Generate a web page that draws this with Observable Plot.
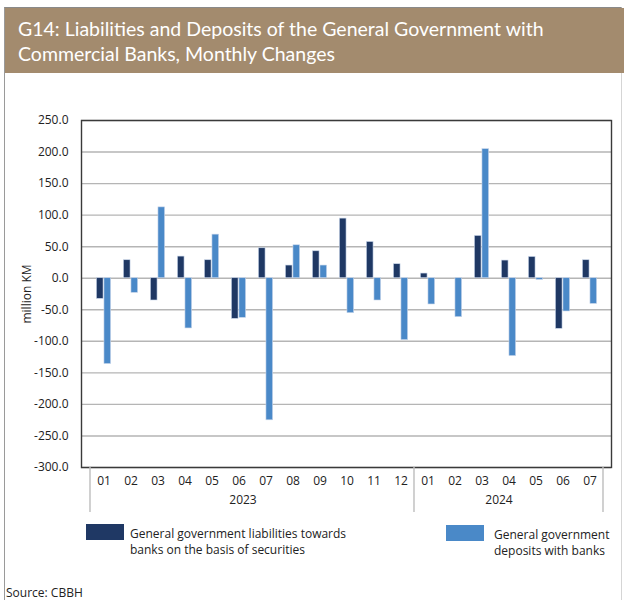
<!DOCTYPE html>
<html><head><meta charset="utf-8">
<script src="https://cdn.jsdelivr.net/npm/d3@7"></script>
<script src="https://cdn.jsdelivr.net/npm/@observablehq/plot@0.6"></script>
<style>
body{margin:0;width:624px;height:600px;position:relative;background:#fff;overflow:hidden;font-family:"Open Sans",sans-serif;color:#222}
#border{position:absolute;left:4px;top:7px;width:616px;height:600px;border-left:1px solid #9a9a9a;border-right:1px solid #d5d5d5;border-top:1px solid #8a8a8a;}
#banner{position:absolute;left:5px;top:8px;width:619px;height:65px;background:#a38b6e;}
#banner div{position:absolute;left:13px;color:#fff;font-family:Lato,sans-serif;font-size:19.5px;white-space:nowrap;line-height:24px}
#chart{position:absolute;left:0;top:80px}
.leg{position:absolute;font-size:12px;line-height:16px;color:#222;white-space:nowrap}
.sw{position:absolute;width:38px;height:16px}
#source{position:absolute;left:6px;top:584px;font-size:12px;color:#222}
</style></head>
<body>
<div id="border"></div>
<div id="banner">
  <div style="top:9px">G14: Liabilities and Deposits of the General Government with</div>
  <div style="top:34px">Commercial Banks, Monthly Changes</div>
</div>
<div id="chart"></div>
<div class="sw" id="sw1" style="left:86px;top:524px"></div>
<div class="leg" style="left:130px;top:526px">General government liabilities towards<br>banks on the basis of securities</div>
<div class="sw" id="sw2" style="left:446px;top:525px"></div>
<div class="leg" style="left:494px;top:527px">General government<br>deposits with banks</div>
<div id="source">Source: CBBH</div>
<script>
const months = ["2023-01","2023-02","2023-03","2023-04","2023-05","2023-06","2023-07","2023-08","2023-09","2023-10","2023-11","2023-12",
                "2024-01","2024-02","2024-03","2024-04","2024-05","2024-06","2024-07"];
const liabilities = [-32.7, 28.5, -35.3, 34.3, 28.5, -64.4, 47.5, 20.1, 42.7, 94.5, 57.4, 22.2,
                     7.4, 0, 67.0, 28.0, 33.7, -80.2, 28.5];
const deposits = [-136.0, -23.2, 112.3, -79.6, 69.1, -62.8, -225.2, 52.2, 20.1, -55.4, -35.3, -98.1,
                  -41.6, -61.7, 204.6, -123.4, -2.7, -52.7, -40.7];
const yTicks = [-300,-250,-200,-150,-100,-50,0,50,100,150,200,250];
const seriesNames = ["General government liabilities towards banks on the basis of securities","General government deposits with banks"];
const colors = ["#1f3864","#4a89c8"];

document.getElementById("sw1").style.background = colors[0];
document.getElementById("sw2").style.background = colors[1];

const liabData = months.map((m,i)=>({month:m, value:liabilities[i]}));
const depData = months.map((m,i)=>({month:m, value:deposits[i]}));

const font = "'Open Sans', sans-serif";
const chart = Plot.plot({
  width: 624, height: 440,
  marginTop: 40, marginLeft: 81, marginRight: 13, marginBottom: 53,
  style: {fontFamily: font, fontSize: "12px", color: "#222", background: "transparent"},
  x: {type: "band", domain: months, padding: 0},
  y: {domain: [-300, 250]},
  marks: [
    Plot.gridY(yTicks, {stroke: "#b5b5b5", strokeOpacity: 1, strokeWidth: 1.4}),
    Plot.barY(liabData, {x: "month", y: "value", fill: colors[0], insetLeft: 6.4, insetRight: 13.95, stroke: "#c9d6ea", strokeWidth: 0.6}),
    Plot.barY(depData, {x: "month", y: "value", fill: colors[1], insetLeft: 13.95, insetRight: 6.4, stroke: "#c9d6ea", strokeWidth: 0.6}),
    Plot.frame({stroke: "#3a3a3a", strokeWidth: 1.4}),
    Plot.axisY(yTicks, {tickSize: 0, tickPadding: 13, tickFormat: d => d.toFixed(1), fontSize: 12,
      label: "million KM", labelAnchor: "center", labelOffset: 59, labelArrow: "none"}),
    Plot.axisX({tickSize: 0, tickPadding: 9, tickFormat: d => d.slice(5), fontSize: 12, label: null}),
    Plot.text(["2023"], {x: ["2023-06"], text: d => d, frameAnchor: "bottom", dy: 36, dx: 4, fontSize: 12}),
    Plot.text(["2024"], {x: ["2024-04"], text: d => d, frameAnchor: "bottom", dy: 36, dx: -10, fontSize: 12})
  ]
});
document.getElementById("chart").appendChild(chart);

// category separators below the axis, derived from the band scale
const xs = chart.scale("x"), ys = chart.scale("y");
const bw = xs.bandwidth;
const sepX = [xs.apply(months[0]), xs.apply("2024-01"), xs.apply(months[months.length-1]) + bw];
const yb = ys.apply(-300);
d3.select(chart).append("g")
  .selectAll("line").data(sepX).join("line")
  .attr("x1", d => d).attr("x2", d => d)
  .attr("y1", yb).attr("y2", yb + 45)
  .attr("stroke", "#bdbdbd").attr("stroke-width", 1.4);
</script>
</body></html>
